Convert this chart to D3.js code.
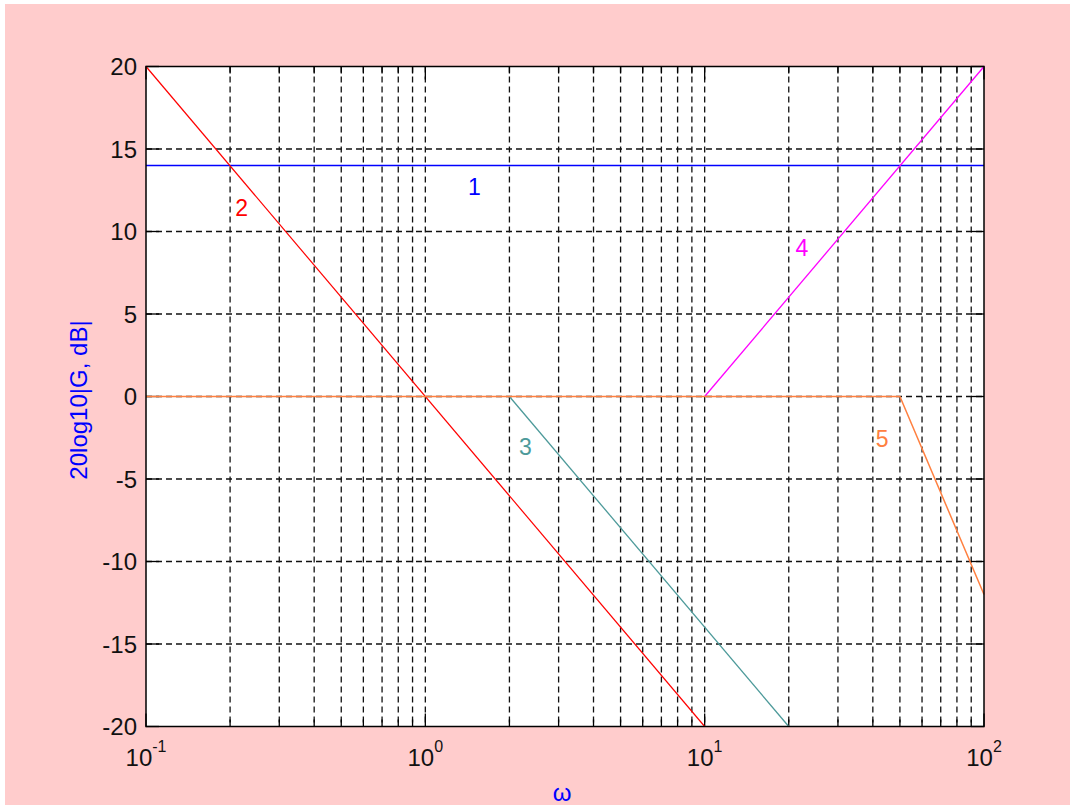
<!DOCTYPE html>
<html>
<head>
<meta charset="utf-8">
<script src="https://cdn.jsdelivr.net/npm/d3@7"></script>
<style>
  body { margin: 0; background: #ffffff; }
  text { font-family: "Liberation Sans", Arial, sans-serif; }
</style>
</head>
<body>
<svg id="chart"></svg>
<script>
// данные графика
const xDomain = [0.1, 100];
const yDomain = [-20, 20];
const xTickExps = [-1, 0, 1, 2];
const yTicks = [-20, -15, -10, -5, 0, 5, 10, 15, 20];

const w1 = [0.1, 100];       const g1 = [14, 14];
const w2 = [0.1, 10];        const g2 = [20, -20];
const w3 = [2, 20];          const g3 = [0, -20];
const w4 = [10, 100];        const g4 = [0, 20];
const w5 = [0.1, 50, 100];   const g5 = [0, 0, -12];

const labelText = ["1", "2", "3", "4", "5"];
const labelW = [1.5, 0.22, 2.28, 22.3, 43.2];
const labelG = [12.7, 11.4, -3.05, 9.0, -2.6];

const colors = ["#0000ff", "#ff0000", "#4d9a9a", "#ff00ff", "#ff8040"];
const lineWidths = [1.7, 1.2, 1.3, 1.3, 1.5];

const width = 1075, height = 809;
const marginLeft = 146, marginTop = 66.5;
const plotW = 838, plotH = 660;

let svg = d3.select("#chart").attr("width", width).attr("height", height);

svg.append("rect").attr("x", 5).attr("y", 4).attr("width", 1065).attr("height", 801)
    .attr("fill", "#ffcccc");

let g = svg.append("g").attr("transform", `translate(${marginLeft}, ${marginTop})`);
g.append("rect").attr("width", plotW).attr("height", plotH).attr("fill", "#ffffff");

let scX = d3.scaleLog().domain(xDomain).range([0, plotW]);
let scY = d3.scaleLinear().domain(yDomain).range([plotH, 0]);

// сетка
let minorTicks = scX.ticks();
g.selectAll(".vgrid").data(minorTicks.filter(d => d > xDomain[0] && d < xDomain[1]))
    .enter().append("line")
    .attr("x1", d => scX(d)).attr("x2", d => scX(d))
    .attr("y1", 0).attr("y2", plotH)
    .attr("stroke", "#111").attr("stroke-width", 1.3).attr("stroke-dasharray", "6,4");
g.selectAll(".hgrid").data(yTicks.filter(d => d > yDomain[0] && d < yDomain[1]))
    .enter().append("line")
    .attr("x1", 0).attr("x2", plotW)
    .attr("y1", d => scY(d)).attr("y2", d => scY(d))
    .attr("stroke", "#111").attr("stroke-width", 1.3).attr("stroke-dasharray", "6,4");

// засечки
let isMajor = d => Math.abs(Math.log10(d) - Math.round(Math.log10(d))) < 1e-9;
minorTicks.forEach(d => {
    let len = isMajor(d) ? 13 : 7;
    g.append("line").attr("x1", scX(d)).attr("x2", scX(d)).attr("y1", plotH).attr("y2", plotH - len)
        .attr("stroke", "#000").attr("stroke-width", 1.3);
    g.append("line").attr("x1", scX(d)).attr("x2", scX(d)).attr("y1", 0).attr("y2", len)
        .attr("stroke", "#000").attr("stroke-width", 1.3);
});
yTicks.forEach(d => {
    g.append("line").attr("x1", 0).attr("x2", 13).attr("y1", scY(d)).attr("y2", scY(d))
        .attr("stroke", "#000").attr("stroke-width", 1.3);
    g.append("line").attr("x1", plotW).attr("x2", plotW - 13).attr("y1", scY(d)).attr("y2", scY(d))
        .attr("stroke", "#000").attr("stroke-width", 1.3);
});

// линии
let line = d3.line().x(d => scX(d[0])).y(d => scY(d[1]));
let series = [[w1, g1], [w2, g2], [w3, g3], [w4, g4], [w5, g5]];
series.forEach(([w, v], i) => {
    g.append("path")
        .datum(w.map((x, j) => [x, v[j]]))
        .attr("d", line)
        .attr("fill", "none")
        .attr("stroke", colors[i])
        .attr("stroke-width", lineWidths[i]);
});

// подписи линий
labelText.forEach((t, i) => {
    g.append("text")
        .attr("x", scX(labelW[i])).attr("y", scY(labelG[i]))
        .attr("text-anchor", "middle").attr("dominant-baseline", "central")
        .attr("font-size", 23).attr("fill", colors[i])
        .text(t);
});

// рамка
g.append("rect").attr("width", plotW).attr("height", plotH)
    .attr("fill", "none").attr("stroke", "#000").attr("stroke-width", 1.5);

// подписи осей
yTicks.forEach(d => {
    g.append("text")
        .attr("x", -9).attr("y", scY(d))
        .attr("text-anchor", "end").attr("dominant-baseline", "central")
        .attr("font-size", 24).attr("fill", "#111")
        .text(d);
});
xTickExps.forEach(e => {
    let t = g.append("text")
        .attr("x", scX(Math.pow(10, e))).attr("y", plotH + 39)
        .attr("text-anchor", "middle")
        .attr("font-size", 24).attr("fill", "#111");
    t.append("tspan").text("10");
    t.append("tspan").attr("font-size", 16).attr("dy", -14).text(e);
});

svg.append("text")
    .attr("x", 562).attr("y", 801)
    .attr("text-anchor", "middle")
    .attr("font-size", 24).attr("fill", "#0000ff")
    .text("ω");

svg.append("text")
    .attr("transform", "translate(87, 400) rotate(-90)")
    .attr("text-anchor", "middle")
    .attr("font-size", 24).attr("fill", "#0000ff")
    .text("20log10|G, dB|");
</script>
</body>
</html>
